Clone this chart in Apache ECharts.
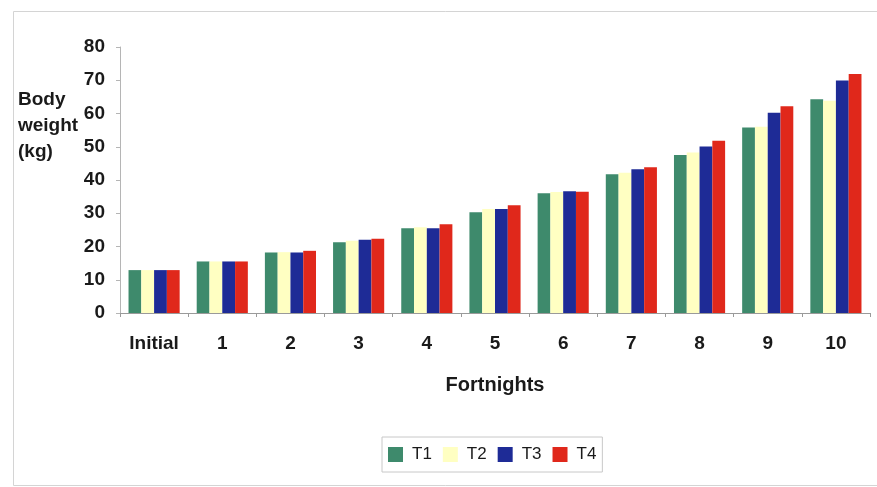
<!DOCTYPE html>
<html>
<head>
<meta charset="utf-8">
<script src="https://cdn.jsdelivr.net/npm/echarts@6/dist/echarts.min.js"></script>
<style>
  html, body { margin: 0; padding: 0; background: #ffffff; }
  #chart { width: 877px; height: 487px; }
</style>
</head>
<body>
<div id="chart"></div>
<script>
// Fortnightly body weight (kg) for four treatment groups
const categories = ['Initial', '1', '2', '3', '4', '5', '6', '7', '8', '9', '10'];
const t1 = [12.9, 15.5, 18.2, 21.3, 25.5, 30.3, 36.0, 41.7, 47.5, 55.8, 64.3];
const t2 = [12.9, 15.5, 18.3, 21.7, 25.8, 31.3, 36.4, 42.2, 48.3, 56.0, 63.8];
const t3 = [12.9, 15.5, 18.2, 22.0, 25.5, 31.3, 36.6, 43.2, 50.1, 60.2, 69.9];
const t4 = [12.9, 15.5, 18.7, 22.3, 26.7, 32.4, 36.5, 43.8, 51.8, 62.2, 71.9];
const seriesNames = ['T1', 'T2', 'T3', 'T4'];
const yTicks = { min: 0, max: 80, interval: 10 };

const colors = ['#3e8a6c', '#ffffc2', '#1e2b96', '#e0281b'];
const font = 'Liberation Sans, Arial, sans-serif';

const chart = echarts.init(document.getElementById('chart'));
const data = [t1, t2, t3, t4];

chart.setOption({
  animation: false,
  backgroundColor: '#ffffff',
  color: colors,
  grid: { left: 120, right: 7, top: 47, bottom: 174 },
  graphic: [
    {
      type: 'rect', left: 11, top: 9,
      shape: { x: 0.5, y: 0.5, width: 880, height: 474 },
      style: { fill: 'none', stroke: '#d4d4d4', lineWidth: 1 }
    },
    {
      type: 'text', left: 18, top: 87,
      style: {
        text: 'Body\nweight\n(kg)', fill: '#1a1a1a',
        font: 'bold 19px ' + font, lineHeight: 26
      }
    }
  ],
  legend: {
    data: seriesNames,
    left: 382, top: 437,
    padding: [9, 6, 9, 6],
    itemWidth: 15, itemHeight: 15, itemGap: 11,
    icon: 'rect',
    borderColor: '#c8c8c8', borderWidth: 1,
    textStyle: { color: '#1a1a1a', fontSize: 17, fontFamily: font, padding: [0, 0, 0, 4] }
  },
  xAxis: {
    type: 'category',
    data: categories,
    name: 'Fortnights',
    nameLocation: 'middle',
    nameGap: 62,
    nameTextStyle: { color: '#1a1a1a', fontSize: 20, fontWeight: 'bold', fontFamily: font },
    axisLine: { lineStyle: { color: '#9a9a9a' } },
    axisTick: { show: true, length: 4, lineStyle: { color: '#9a9a9a' } },
    axisLabel: { color: '#1a1a1a', fontSize: 19, fontWeight: 'bold', fontFamily: font, margin: 21 }
  },
  yAxis: {
    type: 'value',
    min: yTicks.min, max: yTicks.max, interval: yTicks.interval,
    splitLine: { show: false },
    axisLine: { show: true, lineStyle: { color: '#b5b5b5' } },
    axisTick: { show: true, length: 4, lineStyle: { color: '#b5b5b5' } },
    axisLabel: { color: '#1a1a1a', fontSize: 19, fontWeight: 'bold', fontFamily: font, margin: 15 }
  },
  series: seriesNames.map((name, i) => ({
    name,
    type: 'bar',
    data: data[i],
    barGap: '0%',
    barCategoryGap: '25%',
    itemStyle: { color: colors[i] }
  }))
});
</script>
</body>
</html>
